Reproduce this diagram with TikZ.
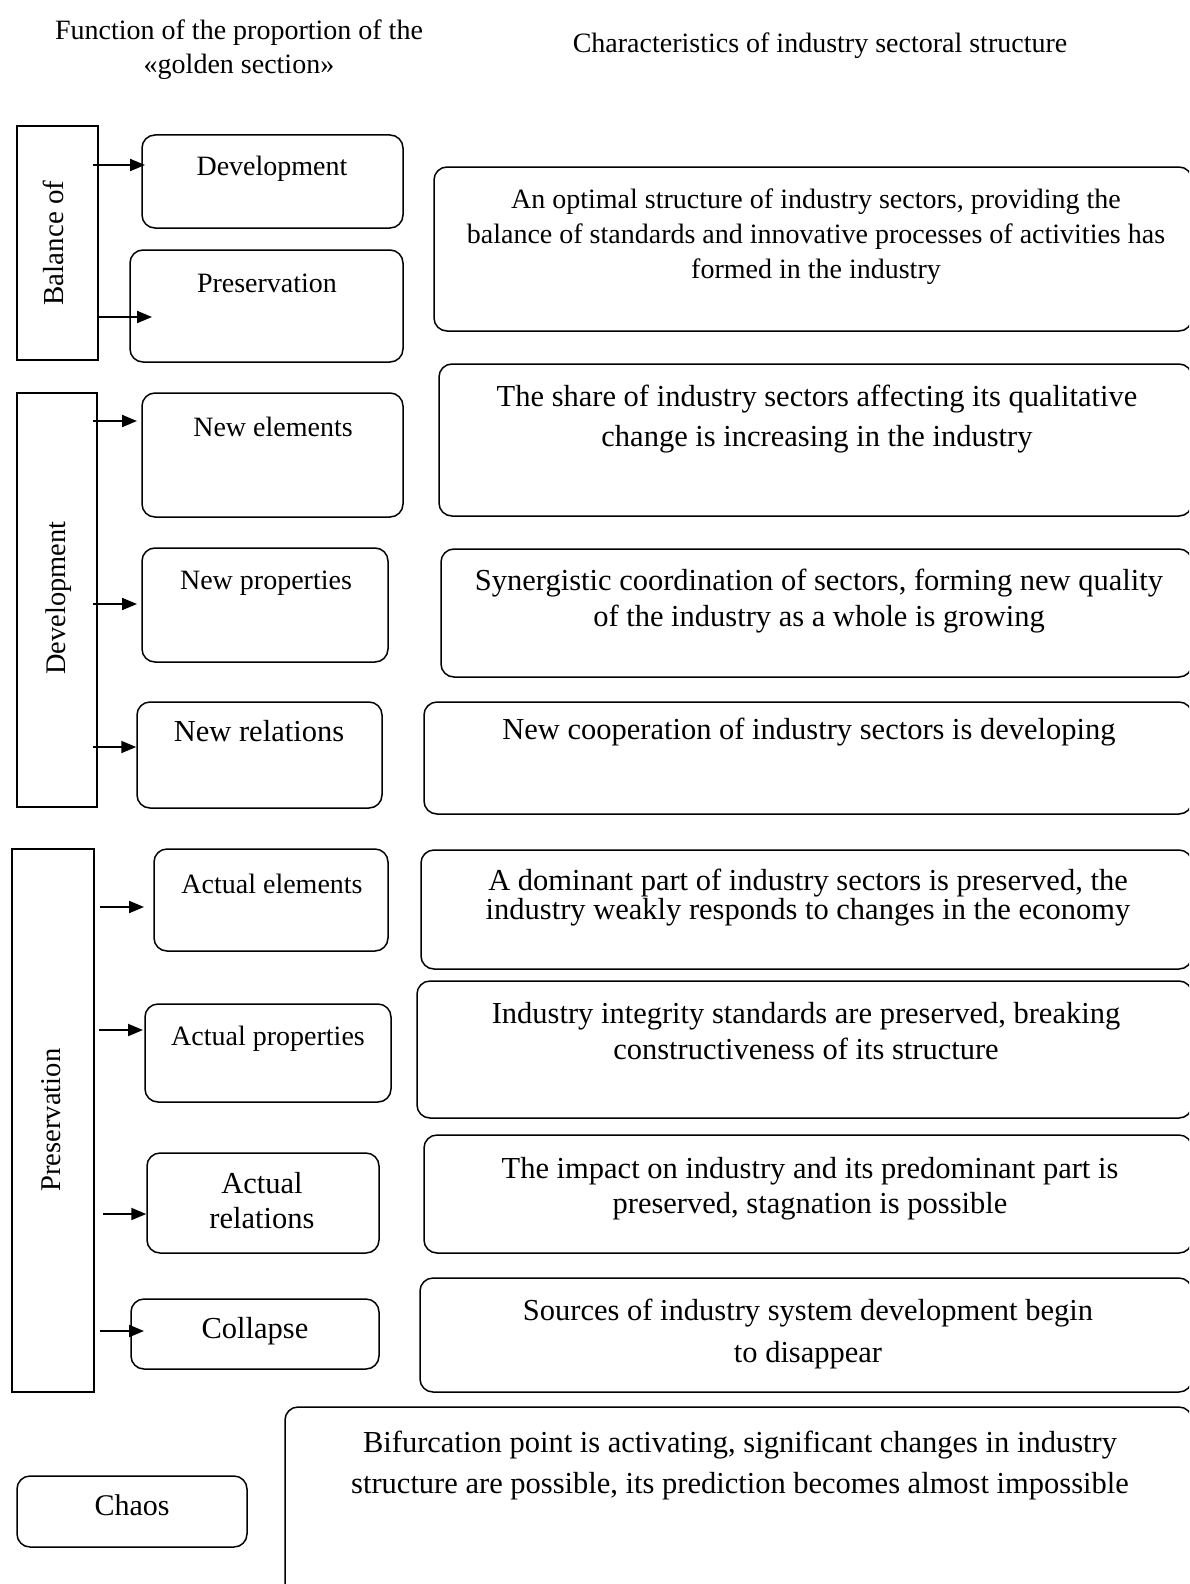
\documentclass[tikz,border=0pt]{standalone}
\usepackage{fontspec}
\setmainfont{Liberation Serif}
\usetikzlibrary{arrows.meta}
\newcommand\mytxt[3]{{\fontsize{#1}{#2}\selectfont\begin{tabular}[t]{@{}c@{}}#3\end{tabular}}}
\newcommand\bx[6]{\node[#2, minimum width={(#5-#3)*1pt}, minimum height={(#6-#4)*1pt}] (#1) at ({(#3+#5)/2},{(#4+#6)/2}) {};}
\begin{document}
\begin{tikzpicture}[x=1pt,y=-1pt,
  rbox/.style={draw, rounded corners=13pt, line width=1.5pt, inner sep=0pt},
  gbox/.style={draw, line width=1.8pt, inner sep=0pt},
  arr/.style={line width=2pt, -{Triangle[length=15pt,width=12pt]}},
  tx/.style={inner sep=0pt, anchor=base},
  vlab/.style={inner sep=0pt, anchor=center, rotate=90}]
\useasboundingbox (0,0) rectangle (1189,1584);
\fill[white] (0,0) rectangle (1189,1584);
\clip (0,0) rectangle (1189,1584);

% headers
\node[tx] (h1) at (239,40) {\mytxt{28}{34}{Function of the proportion of the\\«golden section»}};
\node[tx] (h2) at (820,53) {\mytxt{28}{32}{Characteristics of industry sectoral structure}};

% group A: Balance of
\bx{gA}{gbox}{17}{126}{98}{360}
\node[vlab] (lA) at (57,243) {\mytxt{29}{34}{Balance of}};
\bx{A1}{rbox}{142}{135}{403}{228}
\bx{A2}{rbox}{130}{250}{403}{362}
\node[tx] (tA1) at (272,175) {\mytxt{28}{34}{Development}};
\node[tx] (tA2) at (267,292) {\mytxt{28}{34}{Preservation}};
\coordinate (a1s) at (93,165); \coordinate (a1e) at (145,165);
\coordinate (a2s) at (98,317); \coordinate (a2e) at (152,317);
\draw[arr] (a1s) -- (a1e);
\draw[arr] (a2s) -- (a2e);
\bx{R1}{rbox}{434}{167}{1192}{331}
\node[tx] (tR1) at (816,208) {\mytxt{28}{35}{An optimal structure of industry sectors, providing the\\balance of standards and innovative processes of activities has\\formed in the industry}};

% group B: Development
\bx{gB}{gbox}{17}{393}{97}{807}
\node[vlab] (lB) at (59,598) {\mytxt{28.4}{34}{Development}};
\bx{B1}{rbox}{142}{393}{403}{517}
\bx{B2}{rbox}{142}{548}{388}{662}
\bx{B3}{rbox}{137}{702}{382}{808}
\node[tx] (tB1) at (273,436) {\mytxt{28}{34}{New elements}};
\node[tx] (tB2) at (266,589) {\mytxt{28}{34}{New properties}};
\node[tx] (tB3) at (259,741) {\mytxt{30.5}{34}{New relations}};
\coordinate (b1s) at (93,421); \coordinate (b1e) at (137,421);
\coordinate (b2s) at (93,604); \coordinate (b2e) at (137,604);
\coordinate (b3s) at (93,747);
\draw[arr] (b1s) -- (b1e);
\draw[arr] (b2s) -- (b2e);
\draw[arr] (b3s) -- (b3s -| B3.west);
\bx{R2}{rbox}{439}{364}{1192}{516}
\bx{R3}{rbox}{441}{549}{1192}{677}
\bx{R4}{rbox}{424}{702}{1192}{814}
\node[tx] (tR2) at (817,406) {\mytxt{30.5}{40}{The share of industry sectors affecting its qualitative\\change is increasing in the industry}};
\node[tx] (tR3) at (819,590) {\mytxt{30.5}{36}{Synergistic coordination of sectors, forming new quality\\of the industry as a whole is growing}};
\node[tx] (tR4) at (809,739) {\mytxt{30.5}{36}{New cooperation of industry sectors is developing}};

% group C: Preservation
\bx{gC}{gbox}{12}{849}{94}{1392}
\node[vlab] (lC) at (54,1120) {\mytxt{28.6}{34}{Preservation}};
\bx{C1}{rbox}{154}{849}{388}{951}
\bx{C2}{rbox}{145}{1004}{391}{1102}
\bx{C3}{rbox}{147}{1153}{379}{1253}
\bx{C4}{rbox}{131}{1299}{379}{1369}
\node[tx] (tC1) at (272,893) {\mytxt{28}{34}{Actual elements}};
\node[tx] (tC2) at (268,1045) {\mytxt{28}{34}{Actual properties}};
\node[tx] (tC3) at (262,1193) {\mytxt{30.5}{35}{Actual\\relations}};
\node[tx] (tC4) at (255,1338) {\mytxt{30.5}{35}{Collapse}};
\coordinate (c1s) at (100,907); \coordinate (c1e) at (144,907);
\coordinate (c2s) at (99,1030); \coordinate (c2e) at (143,1030);
\coordinate (c3s) at (103,1214);
\coordinate (c4s) at (100,1331); \coordinate (c4e) at (144,1331);
\draw[arr] (c1s) -- (c1e);
\draw[arr] (c2s) -- (c2e);
\draw[arr] (c3s) -- (c3s -| C3.west);
\draw[arr] (c4s) -- (c4e);
\bx{R5}{rbox}{421}{850}{1192}{969}
\bx{R6}{rbox}{417}{981}{1192}{1118}
\bx{R7}{rbox}{424}{1135}{1192}{1253}
\bx{R8}{rbox}{420}{1278}{1192}{1392}
\node[tx] (tR5) at (808,890) {\mytxt{30.5}{29}{A dominant part of industry sectors is preserved, the\\industry weakly responds to changes in the economy}};
\node[tx] (tR6) at (806,1023) {\mytxt{30.5}{36}{Industry integrity standards are preserved, breaking\\constructiveness of its structure}};
\node[tx] (tR7) at (810,1178) {\mytxt{30.5}{35}{The impact on industry and its predominant part is\\preserved, stagnation is possible}};
\node[tx] (tR8) at (808,1320) {\mytxt{30.5}{42}{Sources of industry system development begin\\to disappear}};

% chaos
\bx{CH}{rbox}{17}{1476}{247}{1547}
\node[tx] (tCH) at (132,1515) {\mytxt{30}{34}{Chaos}};
\bx{R9}{rbox}{285}{1407}{1192}{1610}
\node[tx] (tR9) at (740,1452) {\mytxt{30.5}{41}{Bifurcation point is activating, significant changes in industry\\structure are possible, its prediction becomes almost impossible}};
\end{tikzpicture}
\end{document}
